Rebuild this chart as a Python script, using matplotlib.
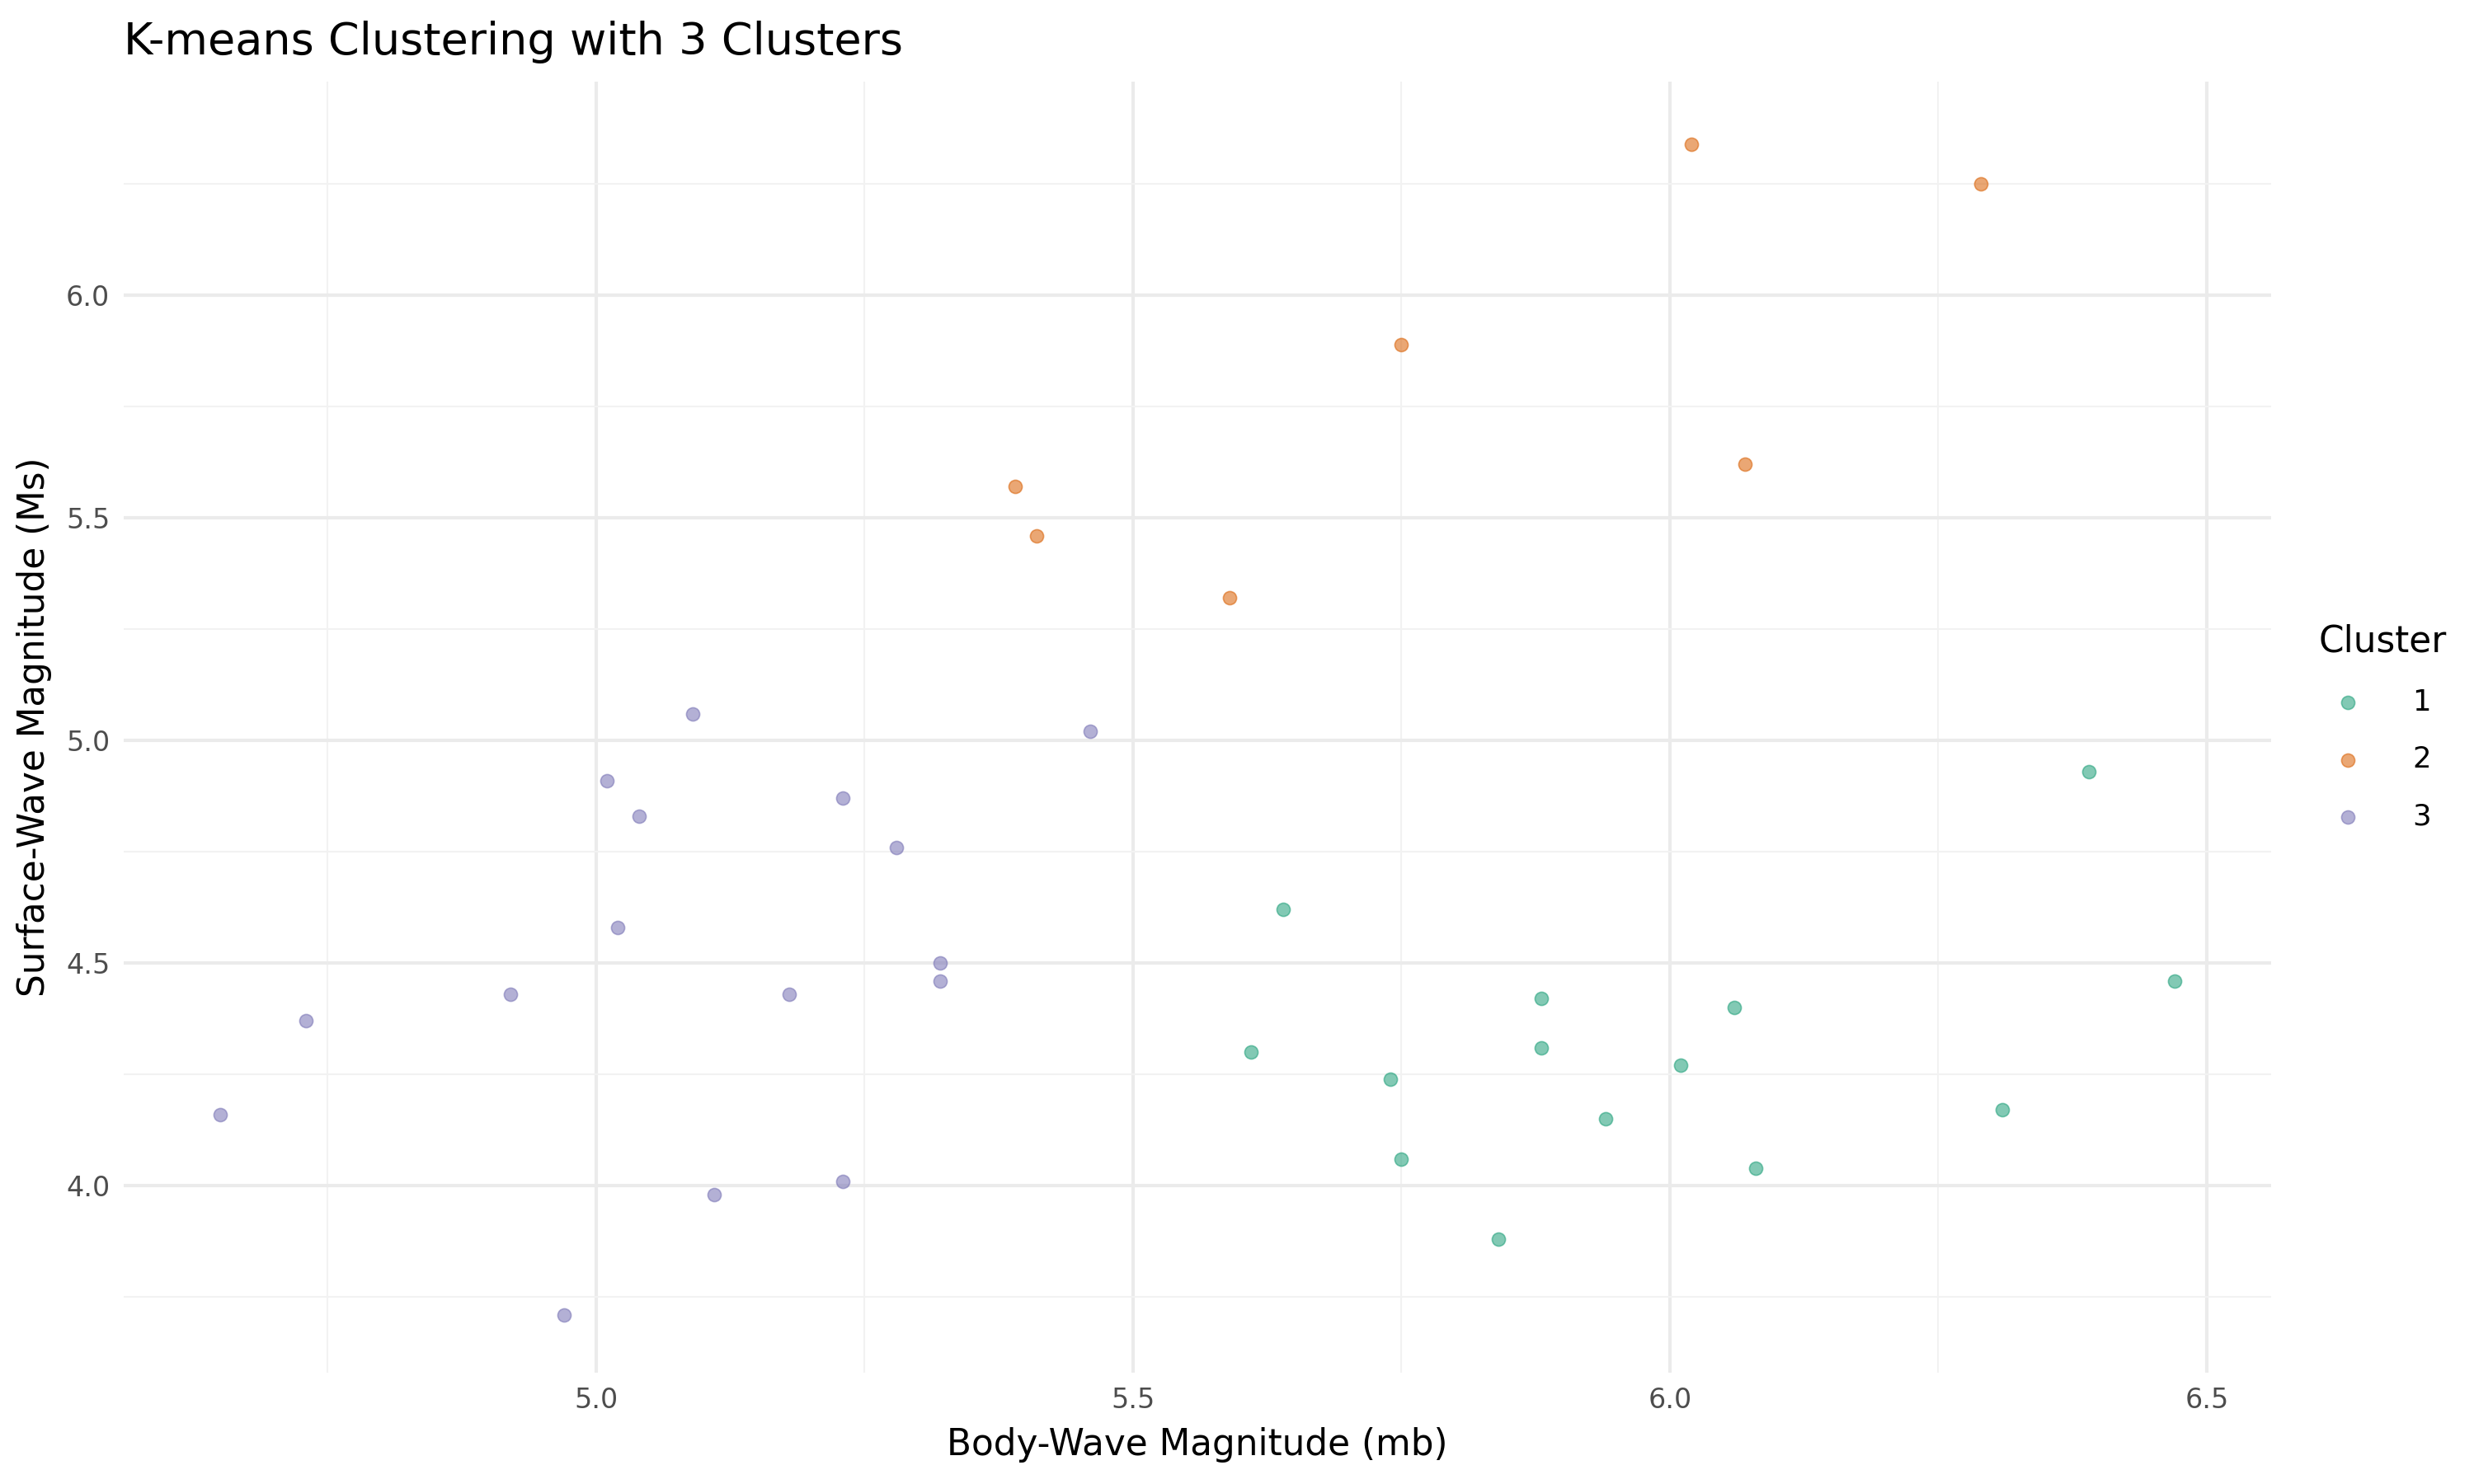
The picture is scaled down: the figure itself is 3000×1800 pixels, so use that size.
import matplotlib.pyplot as plt
from matplotlib.ticker import MultipleLocator

# Body-wave (mb) / surface-wave (Ms) magnitudes per cluster
c1_mb = [6.39, 6.47, 5.64, 5.88, 6.06, 5.61, 5.88, 6.01, 5.74, 6.31, 5.94, 5.75, 6.08, 5.84]
c1_ms = [4.93, 4.46, 4.62, 4.42, 4.40, 4.30, 4.31, 4.27, 4.24, 4.17, 4.15, 4.06, 4.04, 3.88]
c2_mb = [6.02, 6.29, 5.75, 6.07, 5.39, 5.41, 5.59]
c2_ms = [6.34, 6.25, 5.89, 5.62, 5.57, 5.46, 5.32]
c3_mb = [5.09, 5.46, 5.01, 5.23, 5.04, 5.28, 5.02, 5.32, 5.32, 4.92, 5.18, 4.73, 4.65, 5.23, 5.11, 4.97]
c3_ms = [5.06, 5.02, 4.91, 4.87, 4.83, 4.76, 4.58, 4.50, 4.46, 4.43, 4.43, 4.37, 4.16, 4.01, 3.98, 3.71]

clusters = [("1", c1_mb, c1_ms, "#1b9e77"),
            ("2", c2_mb, c2_ms, "#d95f02"),
            ("3", c3_mb, c3_ms, "#7570b3")]

fig, ax = plt.subplots(figsize=(10, 6), dpi=300)
fig.subplots_adjust(left=0.05, right=0.918, top=0.945, bottom=0.075)

for label, x, y, col in clusters:
    ax.scatter(x, y, s=15, color=col, alpha=0.55, edgecolors=col, linewidths=0.4,
               label=label, zorder=3)

ax.set_xlim(4.56, 6.56)
ax.set_ylim(3.58, 6.48)
ax.xaxis.set_major_locator(MultipleLocator(0.5))
ax.xaxis.set_minor_locator(MultipleLocator(0.25))
ax.yaxis.set_major_locator(MultipleLocator(0.5))
ax.yaxis.set_minor_locator(MultipleLocator(0.25))
ax.grid(which="major", color="#ebebeb", linewidth=1.0)
ax.grid(which="minor", color="#f2f2f2", linewidth=0.5)
ax.set_axisbelow(True)
for s in ax.spines.values():
    s.set_visible(False)
ax.tick_params(which="both", length=0, labelsize=8, colors="#4d4d4d", pad=4)

ax.set_xlabel("Body-Wave Magnitude (mb)", fontsize=10.5)
ax.set_ylabel("Surface-Wave Magnitude (Ms)", fontsize=10.5)
ax.set_title("K-means Clustering with 3 Clusters", fontsize=13, loc="left", x=-0.0, pad=8)

leg = ax.legend(title="Cluster", loc="center left", bbox_to_anchor=(1.01, 0.5),
                frameon=False, fontsize=8.5, title_fontsize=10.5, handletextpad=1.2,
                labelspacing=1.0)
leg._legend_box.align = "left"

fig.savefig("out.png", dpi=300)
